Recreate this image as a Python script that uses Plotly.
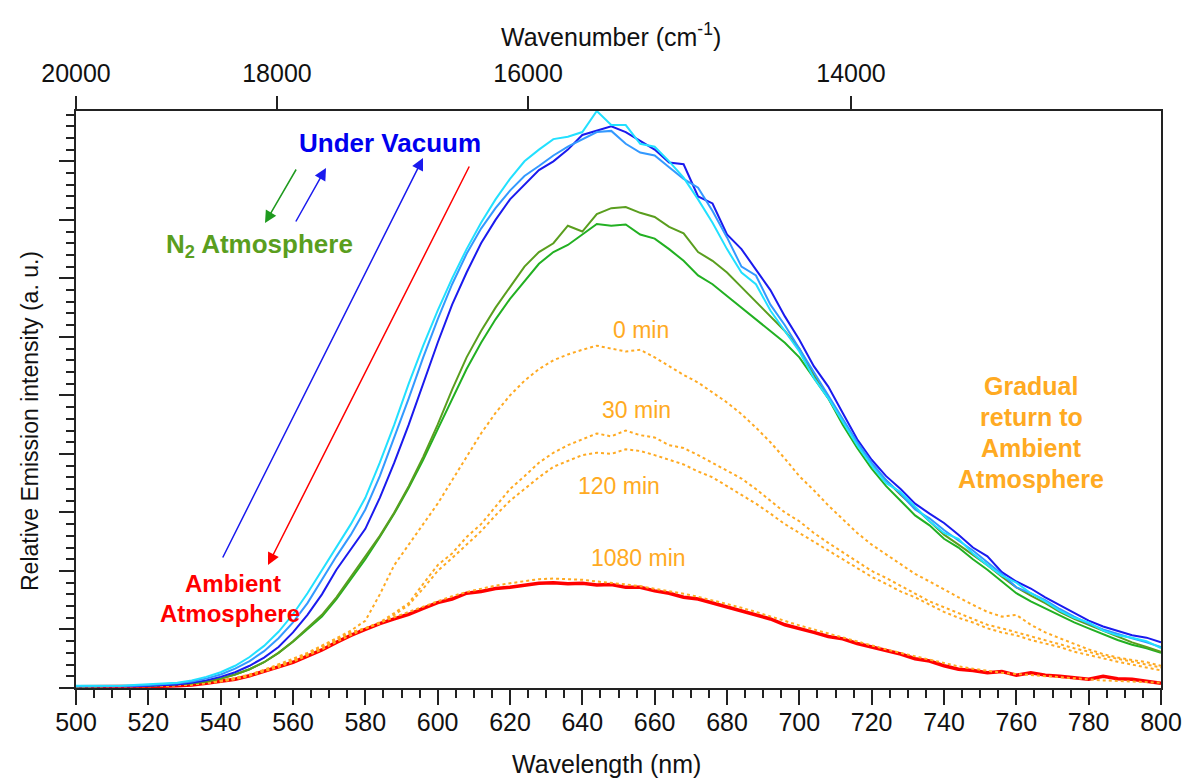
import plotly.graph_objects as go

# ---------------- data ----------------
wavelength_nm = list(range(500, 801, 4))

vacuum_1 = [0.03, 0.03, 0.02, 0.03, 0.03, 0.04, 0.05, 0.06, 0.09, 0.13, 0.19, 0.27, 0.38, 0.52, 0.70, 0.95,
            1.25, 1.60, 2.02, 2.38, 2.72, 3.25, 3.85, 4.50, 5.20, 5.90, 6.55, 7.10, 7.60, 8.00, 8.35, 8.60,
            8.85, 9.00, 9.20, 9.45, 9.52, 9.60, 9.50, 9.35, 9.20, 8.98, 8.95, 8.40, 8.28, 7.75, 7.50, 7.15,
            6.80, 6.35, 5.95, 5.50, 5.15, 4.70, 4.25, 3.90, 3.62, 3.40, 3.15, 2.98, 2.82, 2.62, 2.40, 2.25,
            1.98, 1.82, 1.70, 1.55, 1.42, 1.28, 1.15, 1.05, 0.98, 0.90, 0.86, 0.78]
vacuum_2 = [0.03, 0.03, 0.03, 0.03, 0.04, 0.05, 0.06, 0.08, 0.11, 0.16, 0.23, 0.33, 0.46, 0.63, 0.85, 1.12,
            1.45, 1.85, 2.25, 2.62, 3.05, 3.62, 4.28, 4.95, 5.65, 6.30, 6.90, 7.42, 7.85, 8.20, 8.50, 8.75,
            8.92, 9.10, 9.25, 9.38, 9.50, 9.52, 9.30, 9.15, 9.10, 8.90, 8.70, 8.55, 8.15, 7.70, 7.20, 7.05,
            6.55, 6.20, 5.80, 5.40, 5.00, 4.60, 4.20, 3.85, 3.55, 3.32, 3.05, 2.90, 2.70, 2.52, 2.35, 2.15,
            1.95, 1.72, 1.62, 1.50, 1.35, 1.22, 1.10, 1.00, 0.92, 0.85, 0.78, 0.70]
vacuum_3 = [0.04, 0.04, 0.03, 0.04, 0.05, 0.06, 0.07, 0.09, 0.13, 0.19, 0.27, 0.38, 0.53, 0.72, 0.96, 1.26,
            1.62, 2.02, 2.42, 2.80, 3.25, 3.85, 4.50, 5.20, 5.85, 6.45, 7.00, 7.50, 7.95, 8.35, 8.70, 9.00,
            9.20, 9.38, 9.42, 9.50, 9.86, 9.62, 9.62, 9.30, 9.25, 9.00, 8.72, 8.35, 7.95, 7.50, 7.10, 6.90,
            6.45, 6.10, 5.75, 5.30, 4.95, 4.55, 4.15, 3.80, 3.50, 3.35, 3.10, 2.85, 2.65, 2.55, 2.30, 2.10,
            1.92, 1.80, 1.62, 1.48, 1.32, 1.20, 1.12, 0.98, 0.90, 0.86, 0.80, 0.68]
n2_1 = [0.03, 0.03, 0.03, 0.03, 0.03, 0.04, 0.05, 0.06, 0.08, 0.11, 0.16, 0.23, 0.32, 0.44, 0.60, 0.80,
        1.02, 1.25, 1.55, 1.90, 2.25, 2.60, 3.00, 3.45, 3.95, 4.50, 5.10, 5.65, 6.10, 6.50, 6.85, 7.20,
        7.45, 7.60, 7.90, 7.80, 8.10, 8.20, 8.22, 8.12, 8.05, 7.88, 7.77, 7.45, 7.30, 7.10, 6.85, 6.60,
        6.35, 6.10, 5.80, 5.35, 4.95, 4.55, 4.20, 3.80, 3.55, 3.30, 3.08, 2.85, 2.62, 2.45, 2.28, 2.10,
        1.90, 1.72, 1.58, 1.45, 1.30, 1.18, 1.08, 0.98, 0.88, 0.78, 0.70, 0.62]
n2_2 = [0.03, 0.03, 0.03, 0.03, 0.04, 0.04, 0.05, 0.06, 0.08, 0.11, 0.16, 0.23, 0.32, 0.44, 0.60, 0.79,
        1.00, 1.22, 1.52, 1.86, 2.20, 2.58, 2.98, 3.42, 3.90, 4.42, 4.95, 5.45, 5.90, 6.30, 6.65, 6.95,
        7.25, 7.45, 7.57, 7.75, 7.93, 7.90, 7.92, 7.75, 7.68, 7.50, 7.30, 7.05, 6.90, 6.70, 6.50, 6.30,
        6.10, 5.90, 5.65, 5.30, 4.95, 4.50, 4.10, 3.75, 3.45, 3.20, 2.95, 2.78, 2.55, 2.40, 2.20, 2.02,
        1.82, 1.62, 1.48, 1.36, 1.25, 1.12, 1.02, 0.92, 0.82, 0.74, 0.68, 0.60]
min_0 = [0.03, 0.03, 0.03, 0.03, 0.03, 0.04, 0.04, 0.05, 0.06, 0.09, 0.12, 0.17, 0.23, 0.31, 0.40, 0.50,
         0.60, 0.72, 0.85, 0.98, 1.15, 1.60, 2.10, 2.45, 2.80, 3.15, 3.55, 3.95, 4.35, 4.70, 5.00, 5.25,
         5.45, 5.60, 5.70, 5.78, 5.85, 5.80, 5.75, 5.78, 5.65, 5.50, 5.35, 5.22, 5.05, 4.88, 4.68, 4.45,
         4.20, 3.92, 3.62, 3.38, 3.12, 2.88, 2.65, 2.45, 2.28, 2.12, 1.95, 1.82, 1.68, 1.55, 1.42, 1.30,
         1.22, 1.25, 1.08, 0.95, 0.85, 0.75, 0.66, 0.58, 0.52, 0.48, 0.44, 0.38]
min_30 = [0.03, 0.03, 0.03, 0.03, 0.03, 0.04, 0.04, 0.05, 0.06, 0.09, 0.12, 0.16, 0.22, 0.30, 0.38, 0.47,
          0.58, 0.70, 0.82, 0.95, 1.02, 1.12, 1.28, 1.45, 1.78, 2.10, 2.30, 2.58, 2.80, 3.10, 3.40, 3.62,
          3.85, 4.02, 4.15, 4.25, 4.35, 4.30, 4.40, 4.32, 4.28, 4.15, 4.10, 3.98, 3.85, 3.72, 3.58, 3.40,
          3.20, 3.00, 2.85, 2.65, 2.48, 2.32, 2.15, 2.00, 1.88, 1.75, 1.62, 1.48, 1.38, 1.28, 1.18, 1.08,
          1.02, 0.95, 0.88, 0.82, 0.75, 0.68, 0.62, 0.55, 0.50, 0.45, 0.40, 0.35]
min_120 = [0.03, 0.03, 0.03, 0.03, 0.03, 0.04, 0.04, 0.05, 0.06, 0.09, 0.12, 0.16, 0.22, 0.30, 0.38, 0.47,
           0.58, 0.70, 0.82, 0.95, 1.02, 1.10, 1.25, 1.42, 1.70, 2.00, 2.22, 2.45, 2.68, 2.95, 3.20, 3.40,
           3.60, 3.78, 3.88, 3.98, 4.02, 4.00, 4.08, 4.05, 3.98, 3.90, 3.82, 3.70, 3.60, 3.45, 3.30, 3.15,
           2.98, 2.80, 2.65, 2.50, 2.35, 2.20, 2.05, 1.90, 1.78, 1.65, 1.55, 1.42, 1.30, 1.20, 1.12, 1.02,
           0.95, 0.90, 0.82, 0.76, 0.70, 0.62, 0.56, 0.50, 0.45, 0.40, 0.35, 0.30]
min_1080 = [0.02, 0.02, 0.02, 0.02, 0.03, 0.03, 0.04, 0.05, 0.06, 0.08, 0.11, 0.15, 0.21, 0.28, 0.36, 0.45,
            0.55, 0.66, 0.79, 0.91, 1.02, 1.12, 1.21, 1.30, 1.40, 1.49, 1.57, 1.64, 1.70, 1.75, 1.79, 1.83,
            1.86, 1.87, 1.86, 1.85, 1.82, 1.80, 1.77, 1.74, 1.70, 1.66, 1.61, 1.56, 1.50, 1.44, 1.37, 1.30,
            1.22, 1.14, 1.07, 1.00, 0.93, 0.86, 0.79, 0.72, 0.66, 0.60, 0.54, 0.48, 0.42, 0.37, 0.33, 0.29,
            0.26, 0.24, 0.22, 0.20, 0.18, 0.16, 0.14, 0.13, 0.12, 0.11, 0.10, 0.09]
ambient = [0.02, 0.02, 0.02, 0.02, 0.02, 0.03, 0.03, 0.04, 0.05, 0.08, 0.11, 0.15, 0.21, 0.28, 0.36, 0.44,
           0.54, 0.65, 0.78, 0.90, 1.00, 1.10, 1.18, 1.26, 1.36, 1.46, 1.52, 1.62, 1.65, 1.70, 1.72, 1.76,
           1.79, 1.80, 1.78, 1.79, 1.76, 1.77, 1.72, 1.72, 1.66, 1.62, 1.55, 1.52, 1.45, 1.38, 1.32, 1.25,
           1.18, 1.08, 1.02, 0.95, 0.88, 0.84, 0.76, 0.70, 0.64, 0.58, 0.50, 0.46, 0.38, 0.32, 0.30, 0.26,
           0.28, 0.22, 0.26, 0.22, 0.20, 0.18, 0.15, 0.20, 0.16, 0.15, 0.12, 0.08]

wavenumber_ticks = [20000, 18000, 16000, 14000]
wavenumber_labels = ["20000", "18000", "16000", "14000"]

# ---------------- figure ----------------
FONT = "Arial, 'Liberation Sans', sans-serif"
W, H = 1187, 781
L, R, T, B = 76, 26, 111, 93
PW, PH = W - L - R, H - T - B


def px(xp):
    return (xp - L) / PW


def py(yp):
    return (H - B - yp) / PH


fig = go.Figure()

series = [
    (ambient, "#ff0000", 3.5, "solid", "Ambient"),
    (min_1080, "#ffaa22", 2, "dot", "1080 min"),
    (min_120, "#ffaa22", 2, "dot", "120 min"),
    (min_30, "#ffaa22", 2, "dot", "30 min"),
    (min_0, "#ffaa22", 2, "dot", "0 min"),
    (n2_2, "#22b022", 2, "solid", "N2 b"),
    (n2_1, "#5a9e1e", 2, "solid", "N2 a"),
    (vacuum_1, "#1a1aee", 2, "solid", "Vacuum 1"),
    (vacuum_2, "#3399ff", 2, "solid", "Vacuum 2"),
    (vacuum_3, "#22e0ff", 2, "solid", "Vacuum 3"),
]
for vals, col, wd, dash, name in series:
    fig.add_trace(go.Scatter(x=wavelength_nm, y=vals, mode="lines", name=name,
                             line=dict(color=col, width=wd, dash=dash), showlegend=False))

top_positions = [1e7 / w for w in wavenumber_ticks]
fig.add_trace(go.Scatter(x=[wavelength_nm[0], wavelength_nm[-1]], y=[0, 0], xaxis="x2", mode="markers",
                         marker=dict(opacity=0), showlegend=False, hoverinfo="skip"))

axis_col = "#222222"
TICK_SIZE = 25
fig.update_layout(
    width=W, height=H,
    margin=dict(l=L, r=R, t=T, b=B, autoexpand=False),
    paper_bgcolor="white", plot_bgcolor="white",
    font=dict(family=FONT, size=TICK_SIZE, color="#111111"),
    xaxis=dict(range=[500, 800], dtick=20, tick0=500, ticks="outside", ticklen=15, tickwidth=2,
               tickcolor=axis_col, showline=True, linewidth=2, linecolor=axis_col, showgrid=False,
               zeroline=False, tickfont=dict(size=TICK_SIZE), ticklabelstandoff=-4,
               minor=dict(dtick=5, ticks="outside", ticklen=8, tickwidth=2, tickcolor=axis_col)),
    xaxis2=dict(range=[500, 800], overlaying="x", side="top", tickmode="array",
                tickvals=top_positions, ticktext=wavenumber_labels, ticks="outside", ticklen=13,
                tickwidth=1.5, tickcolor=axis_col, showline=True, linewidth=2, linecolor=axis_col,
                showgrid=False, zeroline=False, tickfont=dict(size=TICK_SIZE), ticklabelstandoff=4),
    yaxis=dict(range=[0, 9.86], dtick=1, tick0=0, ticks="outside", ticklen=15, tickwidth=2,
               tickcolor=axis_col, showticklabels=False, showline=True, linewidth=2, linecolor=axis_col,
               mirror=True, showgrid=False, zeroline=False,
               minor=dict(dtick=0.2, ticks="outside", ticklen=8, tickwidth=2, tickcolor=axis_col)),
)

ann = []


def label(text, x, y, size, color="#111111", angle=0):
    ann.append(dict(text=text, x=px(x), y=py(y), xref="paper", yref="paper", showarrow=False,
                    xanchor="center", yanchor="middle", textangle=angle, borderpad=0,
                    font=dict(size=size, color=color)))


# axis titles
label("Wavelength (nm)", 606, 764, 25)
label("Wavenumber (cm<sup>-1</sup>)", 611, 35, 25)
label("Relative Emission intensity (a. u.)", 30, 421, 23, angle=-90)

# annotations
label("<b>Under Vacuum</b>", 390, 143, 26, "#0000ee")
label("<b>N<sub>2</sub> Atmosphere</b>", 259, 245, 26, "#5a9e1e")
label("<b>Ambient</b>", 233, 583, 24, "#ff0000")
label("<b>Atmosphere</b>", 230, 613, 24, "#ff0000")
for txt, yy in [("Gradual", 386), ("return to", 417), ("Ambient", 448), ("Atmosphere", 479)]:
    label("<b>" + txt + "</b>", 1031, yy, 25, "#ffaa22")
for txt, xx, yy in [("0 min", 641, 330), ("30 min", 636, 410), ("120 min", 619, 486), ("1080 min", 638, 558)]:
    label(txt, xx, yy, 23, "#ffaa22")

# arrows (head position, tail position in screen pixels)
for hx, hy, tx, ty, col in [(423, 158, 222, 559, "#1a1aee"), (268, 565, 470, 165, "#ff0000"),
                            (326, 168, 295, 223, "#1a1aee"), (265, 223, 297, 168, "#1f9a1f")]:
    ann.append(dict(x=px(hx), y=py(hy), xref="paper", yref="paper", ax=tx - hx, ay=ty - hy,
                    showarrow=True, arrowhead=2, arrowsize=1.6, arrowwidth=1.5, arrowcolor=col,
                    text="", standoff=0))

fig.update_layout(annotations=ann)
fig.write_html("out.html", config={"displayModeBar": False},
               post_script="document.body.style.margin='0';document.body.style.overflow='hidden';")
